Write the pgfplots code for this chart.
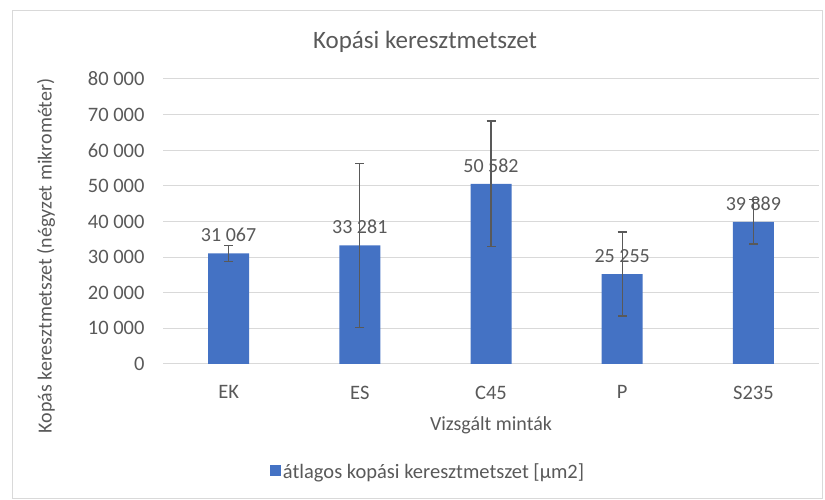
\documentclass[border=0pt]{standalone}
\usepackage{fontspec}
\setmainfont{Carlito}
\usepackage{pgfplots}
\pgfplotsset{compat=1.18}
\usepackage{pgfplotstable}
\definecolor{barblue}{HTML}{4472C4}
\definecolor{txtgray}{HTML}{595959}
\definecolor{gridgray}{HTML}{D9D9D9}
\definecolor{errgray}{HTML}{595959}
\pgfplotstableread{
x y err label
0 31067 2200 {31 067}
1 33281 23000 {33 281}
2 50582 17650 {50 582}
3 25255 11800 {25 255}
4 39889 6200 {39 889}
}\datatable
\begin{document}
\begin{tikzpicture}[x=1pt,y=1pt]
\path[use as bounding box] (0,0) rectangle (825,500);
\draw[gridgray,line width=0.8pt] (12,2) rectangle (822,490);
\begin{axis}[
  at={(163pt,136pt)}, anchor=south west,
  scale only axis, width=656pt, height=285pt,
  xmin=-0.5, xmax=4.5, ymin=0, ymax=80000,
  xtick=data, xticklabels={EK,ES,C45,P,S235},
  ytick={0,10000,...,80000},
  scaled y ticks=false,
  /pgf/number format/assume math mode=true,
  yticklabel={\pgfmathprintnumber[1000 sep={\ }]{\tick}},
  axis line style={draw=none},
  y axis line style={draw=none},
  x axis line style={draw=gridgray, line width=1pt},
  tick style={draw=none},
  ymajorgrids, grid style={gridgray, line width=1pt},
  ticklabel style={font=\fontsize{20.5}{22}\selectfont, text=txtgray},
  yticklabel style={xshift=-15pt},
  xticklabel style={yshift=-14pt},
  ybar, bar width=41pt,
  legend style={at={(rel axis cs:0.404,-0.379)}, anchor=center, draw=none, fill=none,
    font=\fontsize{20.5}{22}\selectfont, text=txtgray},
  legend image code/.code={\fill[barblue] (0pt,-4pt) rectangle (11pt,7pt);},
  nodes near coords,
  point meta=explicit symbolic,
  every node near coord/.append style={font=\fontsize{20}{22}\selectfont, text=txtgray, anchor=south, yshift=8pt},
  clip=false,
]
\addplot[fill=barblue, draw=none,
  error bars/.cd, y dir=both, y explicit,
  error bar style={errgray, line width=1.3pt},
  error mark options={rotate=90, mark size=4.5pt, errgray, line width=1.3pt}]
  table[x=x, y=y, y error=err, meta=label] {\datatable};
\addlegendentry{átlagos kopási keresztmetszet [µm2]}
\end{axis}
\node[text=txtgray, font=\fontsize{25}{28}\selectfont] at (425,458) {Kopási keresztmetszet};
\node[text=txtgray, font=\fontsize{20}{22}\selectfont, rotate=90] at (46,244) {Kopás keresztmetszet (négyzet mikrométer)};
\node[text=txtgray, font=\fontsize{20}{22}\selectfont] at (491,75) {Vizsgált minták};
\end{tikzpicture}
\end{document}
